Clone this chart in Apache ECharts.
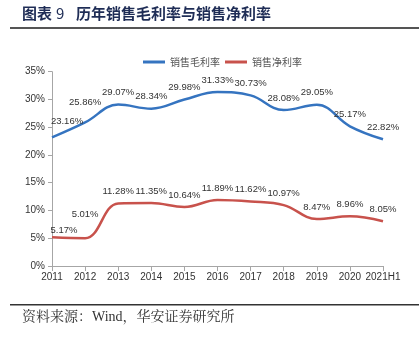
<!DOCTYPE html>
<html>
<head>
<meta charset="utf-8">
<script src="https://cdn.jsdelivr.net/npm/echarts@6/dist/echarts.min.js"></script>
<style>
html,body{margin:0;padding:0;background:#fff;}
#chart{width:419px;height:341px;}
</style>
</head>
<body>
<div id="chart"></div>
<script>
var categories = ['2011','2012','2013','2014','2015','2016','2017','2018','2019','2020','2021H1'];
var grossMargin = [23.16, 25.86, 29.07, 28.34, 29.98, 31.33, 30.73, 28.08, 29.05, 25.17, 22.82];
var netMargin = [5.17, 5.01, 11.28, 11.35, 10.64, 11.89, 11.62, 10.97, 8.47, 8.96, 8.05];
var seriesNames = ['销售毛利率', '销售净利率'];
var yTicks = [0, 5, 10, 15, 20, 25, 30, 35];

var numFont = "'Liberation Sans Narrow', 'Liberation Sans', Arial, sans-serif";
var grossOffsets = {0: [15, -4], 1: [0, -8]};
var netOffsets = {0: [12, 5], 1: [0, -12]};

function makeLayout(offsets) {
  return function (params) {
    var o = offsets[params.dataIndex];
    if (o) return { dx: o[0], dy: o[1], hideOverlap: false };
    return { hideOverlap: false };
  };
}

var labelStyle = {
  show: true,
  position: 'top',
  distance: 7,
  color: '#333',
  fontSize: 9.5,
  fontFamily: numFont,
  formatter: function (p) { return p.value.toFixed(2) + '%'; }
};

var chart = echarts.init(document.getElementById('chart'), null, {renderer: 'canvas'});
chart.setOption({
  backgroundColor: '#fff',
  animation: false,
  graphic: [
    { type: 'text', left: 22, top: 6, style: { text: '图表', font: "bold 15px 'Noto Sans CJK SC'", fill: '#1f2d56' } },
    { type: 'text', left: 56, top: 6, style: { text: '9', font: "15px 'Noto Sans CJK SC'", fill: '#1f2d56' } },
    { type: 'text', left: 76, top: 6, style: { text: '历年销售毛利率与销售净利率', font: "bold 15px 'Noto Sans CJK SC'", fill: '#1f2d56' } },
    { type: 'rect', shape: { x: 10, y: 27, width: 409, height: 2 }, style: { fill: '#555' } },
    { type: 'rect', shape: { x: 10, y: 304, width: 409, height: 1.5 }, style: { fill: '#333' } },
    { type: 'text', left: 22, top: 310, style: { text: '资料来源：Wind，华安证券研究所', font: "14px 'Liberation Serif', 'Noto Serif CJK SC', 'Noto Sans CJK SC', serif", fill: '#333' } }
  ],
  legend: {
    left: 138,
    top: 52,
    itemWidth: 22,
    itemHeight: 3,
    itemGap: 5,
    icon: 'rect',
    textStyle: { fontSize: 10, color: '#555', fontFamily: "'Noto Sans CJK SC'" },
    data: seriesNames
  },
  grid: { left: 52, right: 36, top: 71.7, bottom: 75, containLabel: false },
  xAxis: {
    type: 'category',
    data: categories,
    boundaryGap: false,
    axisLine: { lineStyle: { color: '#a6a6a6', width: 1 } },
    axisTick: { show: true, alignWithLabel: true, length: 5, lineStyle: { color: '#a6a6a6' } },
    axisLabel: { color: '#333', fontSize: 10, fontFamily: numFont, margin: 6, interval: 0 },
    splitLine: { show: false }
  },
  yAxis: {
    type: 'value',
    min: yTicks[0],
    max: yTicks[yTicks.length - 1],
    interval: 5,
    axisLine: { show: true, lineStyle: { color: '#a6a6a6', width: 1 } },
    axisTick: { show: true, length: 4, lineStyle: { color: '#a6a6a6' } },
    axisLabel: { color: '#333', fontSize: 10, fontFamily: numFont, margin: 7, formatter: '{value}%' },
    splitLine: { show: false }
  },
  series: [
    {
      name: seriesNames[0],
      type: 'line',
      smooth: 0.4,
      showSymbol: true,
      symbol: 'circle',
      symbolSize: 0.1,
      color: '#3574c0',
      lineStyle: { width: 2.5, color: '#3574c0' },
      label: labelStyle,
      labelLayout: makeLayout(grossOffsets),
      data: grossMargin
    },
    {
      name: seriesNames[1],
      type: 'line',
      smooth: 0.4,
      showSymbol: true,
      symbol: 'circle',
      symbolSize: 0.1,
      color: '#c8524c',
      lineStyle: { width: 2.5, color: '#c8524c' },
      label: labelStyle,
      labelLayout: makeLayout(netOffsets),
      data: netMargin
    }
  ]
});
</script>
</body>
</html>
